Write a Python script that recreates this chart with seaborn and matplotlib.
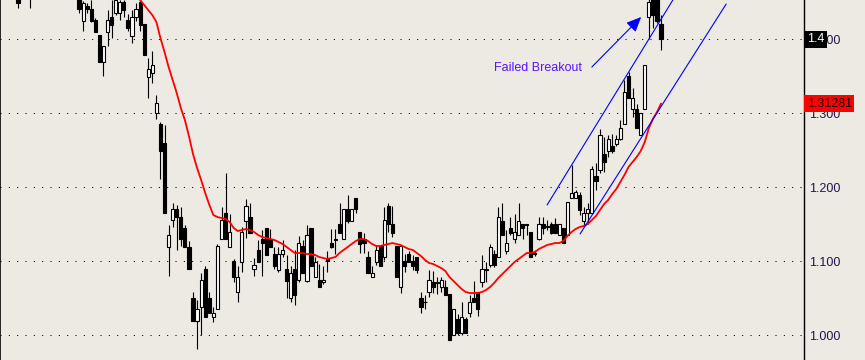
import numpy as np
import matplotlib
matplotlib.use('Agg')
import matplotlib.pyplot as plt
import matplotlib.transforms as mtransforms
import seaborn as sns

nan = np.nan

# daily candles, index 0..158 (nan = bar hidden above the chart top)
opens = [1.459, nan, nan, 1.466] + [nan] * 11 + [
    1.457, 1.424, 1.445, 1.441, 1.426, 1.405, 1.369, 1.409, 1.430, 1.435,
    1.435, 1.450, 1.426, 1.404, 1.430, 1.450, 1.420, 1.349, 1.354, 1.300,
    1.285, 1.259, 1.119, 1.155, 1.170, 1.159, 1.145, 1.119, 1.050, 1.019,
    1.038, 1.089, 1.050, 1.025, 1.035, 1.130, 1.165, 1.119, 1.100, 1.058,
    1.099, 1.154, 1.159, 1.089, 1.115, 1.130, 1.145, 1.130, 1.110, 1.088,
    1.110, 1.089, 1.050, 1.089, 1.075, 1.120, 1.073, 1.145, 1.079, 1.075,
    1.071, 1.104, 1.124, 1.130, 1.150, 1.130, 1.170, 1.154, 1.185, 1.139,
    1.130, 1.105, 1.079, 1.099, 1.120, 1.105, 1.174, 1.150, 1.120, 1.065,
    1.100, 1.110, 1.100, 1.105, 1.050, 1.045, 1.058, 1.071, 1.070, 1.065,
    1.065, 1.056, 1.000, 1.021, 1.003, 1.021, 1.030, 1.050, 1.058, 1.071,
    1.088, 1.095, 1.110, 1.105, 1.154, 1.114, 1.145, 1.130, 1.135, 1.150,
    1.150, 1.139, 1.111, 1.130, 1.150, 1.147, 1.150, 1.150, 1.135, 1.145,
    1.135, 1.185, 1.185, 1.189, 1.154, 1.165, 1.165, 1.215, 1.223, 1.245,
    1.249, 1.255, 1.258, 1.265, 1.285, 1.350, 1.305, 1.305, 1.270, 1.305,
    1.430, 1.457, 1.455, 1.420]
highs = [1.466, nan, nan, 1.469] + [nan] * 11 + [
    1.459, 1.451, 1.449, 1.453, 1.428, 1.405, 1.391, 1.439, 1.453, 1.457,
    1.453, 1.453, 1.434, 1.439, 1.449, 1.453, 1.420, 1.374, 1.384, 1.324,
    1.288, 1.284, 1.149, 1.178, 1.176, 1.173, 1.149, 1.127, 1.058, 1.047,
    1.084, 1.093, 1.058, 1.038, 1.123, 1.173, 1.219, 1.164, 1.103, 1.093,
    1.146, 1.184, 1.178, 1.104, 1.128, 1.142, 1.145, 1.143, 1.119, 1.119,
    1.128, 1.108, 1.093, 1.115, 1.134, 1.128, 1.149, 1.145, 1.105, 1.096,
    1.093, 1.114, 1.143, 1.143, 1.178, 1.170, 1.189, 1.170, 1.185, 1.139,
    1.138, 1.114, 1.093, 1.122, 1.120, 1.173, 1.178, 1.174, 1.120, 1.120,
    1.110, 1.114, 1.108, 1.105, 1.058, 1.054, 1.088, 1.087, 1.079, 1.079,
    1.075, 1.056, 1.035, 1.029, 1.044, 1.025, 1.054, 1.073, 1.058, 1.108,
    1.099, 1.123, 1.115, 1.173, 1.178, 1.142, 1.159, 1.164, 1.178, 1.150,
    1.150, 1.139, 1.115, 1.159, 1.159, 1.155, 1.153, 1.158, 1.150, 1.145,
    1.180, 1.230, 1.196, 1.193, 1.173, 1.178, 1.228, 1.232, 1.278, 1.268,
    1.270, 1.272, 1.270, 1.290, 1.345, 1.355, 1.334, 1.312, 1.300, 1.365,
    1.459, 1.459, 1.458, 1.432]
lows = [1.442, nan, nan, 1.442] + [nan] * 11 + [
    1.435, 1.411, 1.435, 1.423, 1.409, 1.369, 1.350, 1.391, 1.401, 1.432,
    1.426, 1.430, 1.411, 1.395, 1.424, 1.411, 1.378, 1.320, 1.340, 1.292,
    1.211, 1.165, 1.080, 1.146, 1.115, 1.120, 1.119, 1.089, 1.019, 0.981,
    1.000, 1.025, 1.030, 1.017, 1.035, 1.130, 1.130, 1.119, 1.071, 1.045,
    1.085, 1.131, 1.138, 1.080, 1.099, 1.080, 1.108, 1.119, 1.089, 1.085,
    1.105, 1.050, 1.045, 1.040, 1.071, 1.084, 1.071, 1.093, 1.079, 1.065,
    1.069, 1.085, 1.118, 1.110, 1.138, 1.130, 1.151, 1.154, 1.165, 1.111,
    1.111, 1.084, 1.079, 1.095, 1.093, 1.101, 1.139, 1.133, 1.079, 1.057,
    1.085, 1.099, 1.088, 1.084, 1.030, 1.035, 1.052, 1.057, 1.056, 1.058,
    1.054, 0.993, 1.000, 1.000, 1.000, 1.003, 1.025, 1.044, 1.026, 1.065,
    1.072, 1.092, 1.092, 1.105, 1.135, 1.110, 1.135, 1.124, 1.135, 1.130,
    1.135, 1.105, 1.107, 1.128, 1.137, 1.142, 1.137, 1.138, 1.135, 1.124,
    1.135, 1.185, 1.185, 1.162, 1.147, 1.150, 1.165, 1.196, 1.219, 1.220,
    1.240, 1.246, 1.255, 1.264, 1.285, 1.320, 1.295, 1.280, 1.270, 1.305,
    1.400, 1.415, 1.422, 1.385]
closes = [1.449, nan, nan, 1.457] + [nan] * 11 + [
    1.441, 1.449, 1.441, 1.424, 1.409, 1.369, 1.391, 1.426, 1.419, 1.453,
    1.450, 1.439, 1.415, 1.430, 1.441, 1.419, 1.378, 1.359, 1.365, 1.313,
    1.249, 1.165, 1.135, 1.170, 1.159, 1.130, 1.119, 1.089, 1.019, 1.035,
    1.075, 1.025, 1.030, 1.030, 1.120, 1.155, 1.130, 1.139, 1.079, 1.079,
    1.139, 1.174, 1.138, 1.095, 1.099, 1.124, 1.108, 1.119, 1.093, 1.110,
    1.115, 1.073, 1.084, 1.054, 1.124, 1.084, 1.135, 1.093, 1.099, 1.065,
    1.075, 1.100, 1.119, 1.129, 1.138, 1.170, 1.154, 1.170, 1.170, 1.123,
    1.124, 1.084, 1.084, 1.115, 1.093, 1.155, 1.150, 1.138, 1.079, 1.120,
    1.093, 1.099, 1.093, 1.088, 1.038, 1.044, 1.075, 1.065, 1.071, 1.075,
    1.054, 0.993, 1.035, 1.003, 1.025, 1.003, 1.044, 1.044, 1.035, 1.089,
    1.089, 1.119, 1.095, 1.159, 1.135, 1.124, 1.138, 1.139, 1.154, 1.145,
    1.149, 1.105, 1.110, 1.150, 1.145, 1.146, 1.138, 1.138, 1.150, 1.124,
    1.180, 1.192, 1.193, 1.169, 1.165, 1.170, 1.224, 1.208, 1.270, 1.234,
    1.265, 1.249, 1.265, 1.280, 1.328, 1.320, 1.320, 1.280, 1.300, 1.365,
    1.450, 1.432, 1.424, 1.400]

# moving average, starting at bar 30
ma_start = 30
ma_values = [
    1.4527, 1.4459, 1.4392, 1.4324, 1.4230, 1.4013, 1.3824, 1.3622, 1.3446, 1.3270,
    1.3068, 1.2905, 1.2689, 1.2446, 1.2257, 1.2094, 1.1919, 1.1760, 1.1621, 1.1594,
    1.1581, 1.1567, 1.1527, 1.1446, 1.1405, 1.1419, 1.1432, 1.1419, 1.1392, 1.1351,
    1.1324, 1.1311, 1.1297, 1.1284, 1.1257, 1.1230, 1.1189, 1.1149, 1.1108, 1.1108,
    1.1108, 1.1094, 1.1094, 1.1081, 1.1054, 1.1040, 1.1027, 1.1040, 1.1054, 1.1108,
    1.1149, 1.1189, 1.1230, 1.1270, 1.1297, 1.1297, 1.1270, 1.1230, 1.1203, 1.1203,
    1.1216, 1.1230, 1.1243, 1.1230, 1.1216, 1.1189, 1.1162, 1.1149, 1.1108, 1.1068,
    1.1014, 1.0973, 1.0959, 1.0932, 1.0905, 1.0865, 1.0784, 1.0730, 1.0676, 1.0621,
    1.0581, 1.0567, 1.0567, 1.0567, 1.0581, 1.0608, 1.0649, 1.0703, 1.0770, 1.0824,
    1.0878, 1.0932, 1.0986, 1.1027, 1.1068, 1.1108, 1.1108, 1.1122, 1.1162, 1.1189,
    1.1216, 1.1230, 1.1243, 1.1243, 1.1270, 1.1338, 1.1392, 1.1432, 1.1459, 1.1473,
    1.1500, 1.1554, 1.1608, 1.1689, 1.1770, 1.1824, 1.1905, 1.1973, 1.2068, 1.2162,
    1.2270, 1.2338, 1.2405, 1.2486, 1.2608, 1.2797, 1.2919, 1.3013, 1.31281]

price_ticks = [1.0, 1.1, 1.2, 1.3, 1.4]
tick_labels = ['1.000', '1.100', '1.200', '1.300', '1.400']

# hand-drawn channel (bar index, price)
upper_x = [130.0, 160.9]
upper_y = [1.1757, 1.4527]
lower_x = [138.1, 174.0]
lower_y = [1.1365, 1.4473]
arrow_x = [141.0, 153.1]
arrow_y = [1.3622, 1.4297]
note_text = 'Failed Breakout'
note_x, note_y = 117.0, 1.3608
last_close = 1.400
last_ma = 1.31281

sns.set_theme(style='white')
plt.rcParams['font.family'] = ['Liberation Sans', 'DejaVu Sans']
bg = '#EDE9E3'

fig = plt.figure(figsize=(8.65, 3.6), dpi=100, facecolor=bg)
ax = fig.add_axes([0, 0, 804 / 865, 1])
ax.set_facecolor(bg)

o = np.array(opens); h = np.array(highs); l = np.array(lows); c = np.array(closes)
x = np.arange(len(o))
m = ~np.isnan(o)
up = c >= o
body_lo = np.minimum(o, c)
body_h = np.maximum(np.abs(c - o), 0.0012)
faces = np.where(up, 'white', 'black')

ax.vlines(x[m], l[m], h[m], color='black', lw=0.8, zorder=2)
ax.bar(x[m], body_h[m], bottom=body_lo[m], width=0.78, color=faces[m],
       edgecolor='black', linewidth=0.8, zorder=3)

ma_x = np.arange(ma_start, ma_start + len(ma_values))
sns.lineplot(x=ma_x, y=ma_values, ax=ax, color='#FF0000', linewidth=1.3, zorder=4)

ax.plot(upper_x, upper_y, color='#0000FF', lw=0.8, zorder=4)
ax.plot(lower_x, lower_y, color='#0000FF', lw=0.8, zorder=4)
ax.annotate('', xy=(arrow_x[1], arrow_y[1]), xytext=(arrow_x[0], arrow_y[0]),
            arrowprops=dict(arrowstyle='-|>,head_length=0.9,head_width=0.4',
                            color='#0000FF', lw=0.8, shrinkA=0, shrinkB=0,
                            mutation_scale=10), zorder=4)
ax.text(note_x, note_y, note_text, color='#5A14FF', fontsize=9,
        ha='left', va='center', zorder=5)

ax.set_xlim(-18 / 4.07, 786 / 4.07)
ax.set_ylim(1.4 - 321 / 740, 1.4 + 39 / 740)

ax.set_yticks(price_ticks)
ax.set_yticklabels(tick_labels)
ax.yaxis.tick_right()
ax.tick_params(axis='y', length=0, pad=3.8, labelsize=9, labelcolor='#1E1650')
ax.set_xticks([])
ax.grid(False)
ax.grid(axis='y', color='black', linestyle=(0, (1, 7)), linewidth=0.75)

for s in ['top', 'bottom']:
    ax.spines[s].set_visible(False)
for s in ['left', 'right']:
    ax.spines[s].set_visible(True)
    ax.spines[s].set_color('black')
ax.spines['right'].set_linewidth(1.0)
ax.spines['left'].set_linewidth(1.2)

trans = mtransforms.blended_transform_factory(ax.transAxes, ax.transData)
ax.text(1.0035, last_close, '1.4', transform=trans, color='white', fontsize=9,
        ha='left', va='center', clip_on=False, zorder=6,
        bbox=dict(boxstyle='square,pad=0.2', fc='black', ec='none'))
ax.text(1.0035, last_ma, '1.31281', transform=trans, color='#1A0000', fontsize=9,
        ha='left', va='center', clip_on=False, zorder=6,
        bbox=dict(boxstyle='square,pad=0.2', fc='#FF0000', ec='none'))

fig.savefig('out.png', dpi=100, facecolor=bg)
